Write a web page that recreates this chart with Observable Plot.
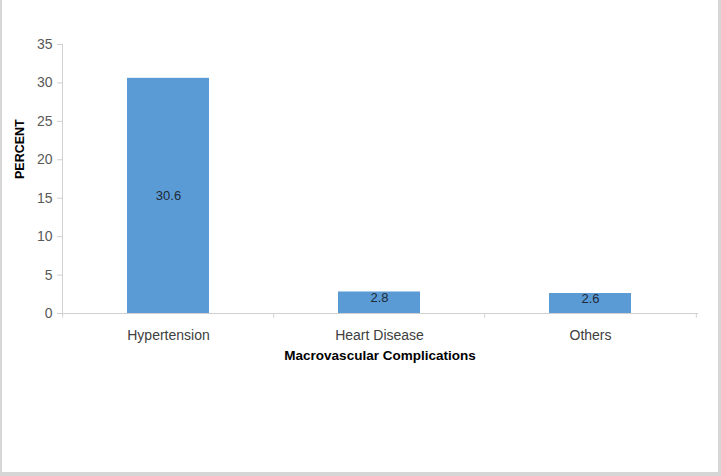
<!DOCTYPE html>
<html>
<head>
<meta charset="utf-8">
<script src="https://cdn.jsdelivr.net/npm/d3@7"></script>
<script src="https://cdn.jsdelivr.net/npm/@observablehq/plot@0.6"></script>
<style>
  html, body { margin: 0; padding: 0; background: #fff; }
  #wrap { position: relative; width: 721px; height: 476px; overflow: hidden; }
  #border { position: absolute; left: 0; top: 0; width: 721px; height: 476px; box-sizing: border-box;
    border-left: 2px solid #d6d6d6; border-right: 3px solid #d6d6d6; border-bottom: 4px solid #d6d6d6; pointer-events: none; }
</style>
</head>
<body>
<div id="wrap"><div id="chart"></div><div id="border"></div></div>
<script>
const categories = ["Hypertension", "Heart Disease", "Others"];
const values = [30.6, 2.8, 2.6];
const yTicks = [0, 5, 10, 15, 20, 25, 30, 35];
const yTitle = "PERCENT";
const xTitle = "Macrovascular Complications";

const data = categories.map((c, i) => ({category: c, value: values[i]}));

const W = 721, H = 476, mL = 62, mR = 24, mT = 44, mB = 163;
const padInner = 0.61, padOuter = 0.305;
const step = (W - mL - mR) / (categories.length - padInner + 2 * padOuter);

const chart = Plot.plot({
  width: W,
  height: H,
  marginLeft: mL,
  marginRight: mR,
  marginTop: mT,
  marginBottom: mB,
  style: {fontFamily: "'Liberation Sans', Arial, sans-serif", background: "transparent", overflow: "visible"},
  x: {domain: categories, paddingInner: padInner, paddingOuter: padOuter, label: null, axis: null},
  y: {domain: [0, 35], label: null, axis: null},
  marks: [
    Plot.barY(data, {x: "category", y: "value", fill: "#5B9BD5"}),
    Plot.frame({anchor: "left", stroke: "#d0d0d0"}),
    Plot.frame({anchor: "bottom", stroke: "#d0d0d0"}),
    Plot.axisY({ticks: yTicks, tickSize: 5, tickPadding: 5, fontSize: 14, stroke: "#d0d0d0", fill: "#595959", label: null}),
    Plot.axisX({tickSize: 0, tickPadding: 17, fontSize: 14, fill: "#404040", label: null}),
    Plot.ruleX(categories, {x: d => d, y1: 0, y2: -0.6, dx: -step / 2, stroke: "#d0d0d0"}),
    Plot.ruleX(categories.slice(-1), {x: d => d, y1: 0, y2: -0.6, dx: step / 2, stroke: "#d0d0d0"}),
    Plot.text(data, {x: "category", y: d => d.value < 5 ? d.value * 0.75 : d.value / 2, text: d => d.value.toFixed(1), fontSize: 13, fill: "#1f2a36"}),
    Plot.text([yTitle], {frameAnchor: "left", dx: -43, rotate: -90, fontWeight: "bold", fontSize: 12.5, fill: "#000"}),
    Plot.text([xTitle], {frameAnchor: "bottom", dy: 46, fontWeight: "bold", fontSize: 13.5, fill: "#000"})
  ]
});
document.getElementById("chart").appendChild(chart);
</script>
</body>
</html>
